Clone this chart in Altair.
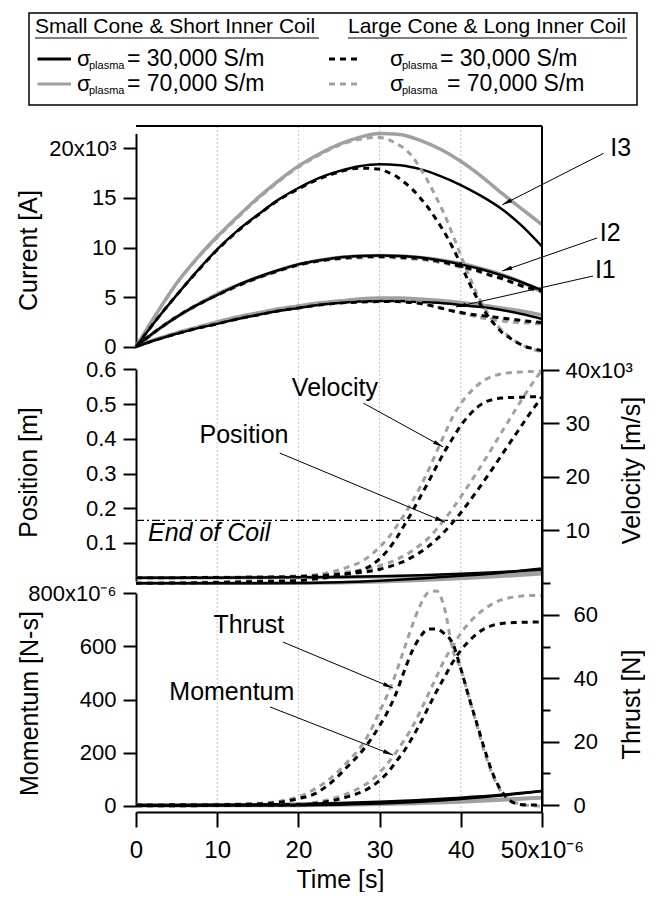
import math
import altair as alt
import pandas as pd

FONT = "Liberation Sans"
GRAY = "#a0a0a0"
BLACK = "#000000"

# ---------------- data ----------------
T_SOLID = [0, 2.5, 5, 7.5, 10, 12.5, 15, 17.5, 20, 22.5, 25, 27.5, 30, 32.5, 35, 37.5, 40, 42.5, 45, 47.5, 50]
I3_SMALL_30K = [0, 2.7, 5.2, 7.6, 9.8, 11.7, 13.3, 14.8, 16.0, 17.0, 17.7, 18.2, 18.4, 18.3, 17.9, 17.2, 16.3, 15.2, 13.9, 12.2, 10.1]
I3_SMALL_70K = [0, 3.3, 6.4, 8.9, 11.1, 13.1, 15.0, 16.7, 18.2, 19.4, 20.4, 21.1, 21.5, 21.4, 20.8, 19.9, 18.7, 17.2, 15.5, 13.9, 12.3]
I2_SMALL_30K = [0, 1.6, 3.0, 4.2, 5.2, 6.2, 7.0, 7.7, 8.3, 8.7, 9.0, 9.15, 9.2, 9.15, 9.0, 8.7, 8.3, 7.8, 7.2, 6.5, 5.7]
I2_SMALL_70K = [0, 1.6, 3.0, 4.2, 5.3, 6.2, 7.0, 7.7, 8.3, 8.7, 9.0, 9.15, 9.2, 9.15, 9.0, 8.75, 8.4, 7.9, 7.3, 6.5, 5.5]
I1_SMALL_30K = [0, 0.7, 1.3, 1.85, 2.3, 2.8, 3.2, 3.6, 3.9, 4.2, 4.4, 4.55, 4.6, 4.6, 4.5, 4.4, 4.2, 4.0, 3.7, 3.3, 2.8]
I1_SMALL_70K = [0, 0.75, 1.4, 1.95, 2.5, 3.0, 3.4, 3.8, 4.1, 4.4, 4.6, 4.8, 4.9, 4.9, 4.8, 4.65, 4.45, 4.2, 3.9, 3.6, 3.2]

T_DASH = [0, 2.5, 5, 7.5, 10, 12.5, 15, 17.5, 20, 22.5, 25, 27.5, 30, 31, 32, 33, 34, 35, 36, 37, 38, 39, 40,
          41, 42, 43, 44, 45, 46, 47, 48, 49, 50]
I3_LARGE_30K = [0, 2.7, 5.2, 7.55, 9.75, 11.65, 13.25, 14.75, 15.9, 16.9, 17.6, 18.0, 17.9, 17.6, 17.2, 16.6, 15.9,
                15.0, 14.0, 12.8, 11.5, 10.0, 8.3, 6.5, 4.9, 3.5, 2.4, 1.5, 0.9, 0.4, 0.0, -0.2, -0.4]
I3_LARGE_70K = [0, 3.3, 6.35, 8.85, 11.0, 13.0, 14.9, 16.6, 18.1, 19.3, 20.3, 20.9, 21.1, 20.9, 20.5, 20.0, 19.2,
                18.0, 16.6, 15.0, 13.3, 11.3, 9.2, 7.2, 5.3, 3.8, 2.6, 1.7, 1.0, 0.4, 0.0, -0.3, -0.5]
I2_LARGE_30K = [0, 1.6, 3.0, 4.2, 5.2, 6.15, 6.95, 7.65, 8.25, 8.65, 8.9, 9.05, 9.1, 9.1, 9.05, 9.0, 8.95, 8.9,
                8.8, 8.65, 8.5, 8.3, 8.1, 7.9, 7.7, 7.4, 7.1, 6.9, 6.6, 6.3, 6.0, 5.8, 5.6]
I2_LARGE_70K = [0, 1.6, 3.0, 4.15, 5.2, 6.1, 6.9, 7.6, 8.2, 8.6, 8.85, 8.95, 9.0, 9.0, 8.95, 8.9, 8.85, 8.8,
                8.7, 8.55, 8.4, 8.2, 8.0, 7.8, 7.6, 7.35, 7.1, 6.85, 6.55, 6.25, 5.95, 5.7, 5.5]
I1_LARGE_30K = [0, 0.7, 1.3, 1.85, 2.3, 2.8, 3.2, 3.6, 3.9, 4.2, 4.4, 4.5, 4.55, 4.55, 4.55, 4.5, 4.45, 4.35,
                4.2, 4.0, 3.8, 3.6, 3.45, 3.3, 3.2, 3.1, 3.0, 2.9, 2.8, 2.7, 2.6, 2.5, 2.45]
I1_LARGE_70K = [0, 0.75, 1.4, 1.95, 2.5, 3.0, 3.4, 3.8, 4.1, 4.4, 4.6, 4.75, 4.8, 4.8, 4.75, 4.7, 4.6, 4.45,
                4.25, 4.05, 3.8, 3.6, 3.4, 3.2, 3.0, 2.85, 2.7, 2.6, 2.5, 2.45, 2.4, 2.35, 2.3]

T_DYN = [0, 5, 10, 15, 20, 22, 24, 26, 28, 29, 30, 31, 32, 33, 34, 35, 36, 37, 38, 39, 40, 41, 42, 43, 44, 45,
         46, 47, 48, 49, 50]
VEL_LARGE_30K = [0, 0.05, 0.15, 0.3, 0.5, 0.8, 1.2, 1.8, 2.6, 3.4, 4.6, 6.2, 8.3, 10.8, 13.4, 16.2, 19.0, 21.9,
                 24.7, 27.2, 29.6, 31.5, 33.0, 34.0, 34.5, 34.75, 34.85, 34.9, 34.95, 35.0, 35.0]
VEL_LARGE_70K = [0, 0.1, 0.25, 0.5, 0.9, 1.5, 2.1, 3.0, 4.3, 5.4, 6.8, 8.4, 10.5, 12.8, 15.3, 18.1, 21.2, 24.6,
                 28.0, 31.2, 33.7, 35.6, 37.1, 38.2, 38.9, 39.3, 39.5, 39.6, 39.7, 39.75, 39.8]
POS_LARGE_30K = [0, 0, 0.0005, 0.001, 0.003, 0.005, 0.008, 0.011, 0.016, 0.019, 0.024, 0.030, 0.038, 0.047, 0.059,
                 0.073, 0.090, 0.110, 0.133, 0.159, 0.187, 0.218, 0.250, 0.283, 0.317, 0.352, 0.387, 0.421, 0.456,
                 0.489, 0.521]
POS_LARGE_70K = [0, 0.0002, 0.001, 0.002, 0.005, 0.0075, 0.011, 0.016, 0.023, 0.028, 0.034, 0.042, 0.051, 0.063,
                 0.077, 0.094, 0.114, 0.139, 0.168, 0.199, 0.233, 0.268, 0.304, 0.341, 0.379, 0.418, 0.456, 0.494,
                 0.531, 0.566, 0.598]
MOM_LARGE_30K = [0, 0.1, 0.5, 1.5, 3, 8, 18, 33, 55, 72, 95, 125, 165, 205, 255, 310, 370, 430, 485, 540, 585,
                 620, 648, 668, 680, 686, 689, 690, 691, 692, 692]
MOM_LARGE_70K = [0, 0.2, 1, 2.5, 5, 12, 25, 45, 75, 95, 125, 160, 200, 245, 295, 355, 420, 485, 550, 600, 650,
                 688, 718, 743, 762, 775, 783, 788, 791, 792, 792]
THR_LARGE_30K = [0, 0.05, 0.1, 0.3, 2.0, 3.5, 7.0, 12.0, 17.5, 21.0, 25.0, 29.5, 35.0, 42.0, 48.5, 53.0, 55.5,
                 55.5, 54.0, 51.0, 43.0, 34.0, 25.5, 17.0, 9.5, 4.5, 1.5, 0.3, 0, 0, 0]
THR_LARGE_70K = [0, 0.1, 0.2, 0.5, 2.6, 5.0, 8.5, 13.5, 19.5, 24.0, 29.5, 35.0, 41.5, 49.0, 56.5, 63.0, 67.0,
                 67.5, 62.0, 49.0, 43.0, 34.0, 25.0, 16.0, 9.0, 4.0, 1.5, 0.5, 0, -0.2, -0.3]

T_SMALL_DYN = [0, 10, 20, 25, 30, 35, 40, 45, 50]
VEL_SMALL_30K = [0, 0, 0.05, 0.2, 0.5, 0.9, 1.4, 2.0, 2.8]
VEL_SMALL_70K = [0, 0, 0.03, 0.1, 0.3, 0.55, 0.9, 1.3, 1.8]
POS_SMALL_30K = [0, 0, 0.001, 0.002, 0.004, 0.007, 0.011, 0.016, 0.023]
POS_SMALL_70K = [0, 0, 0.0005, 0.001, 0.0025, 0.004, 0.007, 0.011, 0.015]
MOM_SMALL_30K = [0, 0.5, 2, 4, 8, 15, 25, 38, 55]
MOM_SMALL_70K = [0, 0.3, 1.2, 2.5, 5, 9, 14, 21, 30]
THR_SMALL_30K = [0, 0.05, 0.3, 0.6, 1.0, 1.6, 2.3, 3.2, 4.4]
THR_SMALL_70K = [0, 0.03, 0.15, 0.35, 0.6, 0.9, 1.3, 1.8, 2.4]

GRID_T = [10, 20, 30, 40]
END_OF_COIL = 0.165

LEGEND_HEADERS = ["Small Cone & Short Inner Coil", "Large Cone & Long Inner Coil"]
LEGEND_VALUES = ["= 30,000 S/m", "= 70,000 S/m"]

# ---------------- layout / scales ----------------
W, H = 406, 686
X_DOMAIN = [0, 50]
Y_SPECS = {
    "cur": ([0, 21.5], [220.7, 7.42]),
    "pos": ([-0.01, 0.6], [455.1, 243.4]),
    "vel": ([0, 40], [457.3, 244.1]),
    "mom": ([0, 800], [679.7, 467.3]),
    "thr": ([0, 70], [679.0, 457.1]),
}


def xs():
    return alt.Scale(domain=X_DOMAIN, nice=False, zero=False)


def ys(kind):
    d, r = Y_SPECS[kind]
    return alt.Scale(domain=d, range=r, nice=False, zero=False)


def px(t):
    return t * W / (X_DOMAIN[1] - X_DOMAIN[0])


def py(kind, v):
    d, r = Y_SPECS[kind]
    return r[0] + (v - d[0]) / (d[1] - d[0]) * (r[1] - r[0])


AX = dict(domainColor="black", tickColor="black", domainWidth=2, tickWidth=2,
          labelFont=FONT, labelColor="black",
          titleFont=FONT, titleFontSize=25, titleColor="black", titleFontWeight="normal",
          labelFlush=False, labelOverlap=False, grid=False)
YLAB = 22

AXIS_X = alt.Axis(orient="bottom", values=[0, 10, 20, 30, 40, 50], tickSize=15, labelPadding=11, labelFontSize=24,
                  labelExpr="datum.value == 50 ? '50x10⁻⁶' : datum.label",
                  title="Time [s]", titleX=204, titleY=67, titleAlign="center", titleBaseline="middle",
                  titleAngle=0, **AX)
AXIS_CUR = alt.Axis(orient="left", values=[0, 5, 10, 15, 20], tickSize=13, labelPadding=7, labelFontSize=YLAB,
                    labelExpr="datum.value == 20 ? '20x10³' : datum.label",
                    title="Current [A]", titleAngle=270, titleX=-108, titleY=124,
                    titleAlign="center", titleBaseline="middle", **AX)
AXIS_POS = alt.Axis(orient="left", values=[0.1, 0.2, 0.3, 0.4, 0.5, 0.6], format=".1f", tickSize=13,
                    labelPadding=7, labelFontSize=YLAB, title="Position [m]", titleAngle=270, titleX=-108,
                    titleY=346, titleAlign="center", titleBaseline="middle", **AX)
AXIS_VEL = alt.Axis(orient="right", values=[10, 20, 30, 40], tickSize=17, labelPadding=6, labelFontSize=YLAB,
                    labelExpr="datum.value == 40 ? '40x10³' : datum.label",
                    title="Velocity [m/s]", titleAngle=270, titleX=89, titleY=344,
                    titleAlign="center", titleBaseline="middle", **AX)
AXIS_MOM = alt.Axis(orient="left", values=[0, 200, 400, 600, 800], tickSize=13, labelPadding=7, labelFontSize=YLAB,
                    labelExpr="datum.value == 800 ? '800x10⁻⁶' : datum.label",
                    title="Momentum [N-s]", titleAngle=270, titleX=-107, titleY=577,
                    titleAlign="center", titleBaseline="middle", **AX)
AXIS_THR = alt.Axis(orient="right", values=[0, 20, 40, 60], tickSize=17, labelPadding=14, labelFontSize=YLAB,
                    title="Thrust [N]", titleAngle=270, titleX=89, titleY=578,
                    titleAlign="center", titleBaseline="middle", **AX)
AXIS_THR_MINOR = alt.Axis(orient="right", values=[10, 30, 50, 70], tickSize=8, labels=False,
                          domain=False, tickColor="black", tickWidth=2, title="", grid=False)


def line(t, v, kind, color, width, dashed, xaxis=None, yaxis=None):
    props = dict(color=color, strokeWidth=width, interpolate="monotone")
    if dashed:
        props["strokeDash"] = [6, 5]
    return alt.Chart(pd.DataFrame({"t": t, "v": v})).mark_line(**props).encode(
        x=alt.X("t:Q", scale=xs(), axis=xaxis),
        y=alt.Y("v:Q", scale=ys(kind), axis=yaxis),
    )


layers = []

# grid lines
layers.append(
    alt.Chart(pd.DataFrame({"t": GRID_T})).mark_rule(color="#c4c4c4", strokeWidth=1, strokeDash=[2, 2]).encode(
        x=alt.X("t:Q", scale=xs(), axis=None), y=alt.value(0), y2=alt.value(H))
)

# end of coil line
layers.append(
    alt.Chart(pd.DataFrame({"t0": [X_DOMAIN[0]], "t1": [X_DOMAIN[1]], "p": [END_OF_COIL]}))
    .mark_rule(color="black", strokeWidth=1.2, strokeDash=[8, 3, 2, 3])
    .encode(x=alt.X("t0:Q", scale=xs(), axis=None), x2="t1:Q",
            y=alt.Y("p:Q", scale=ys("pos"), axis=None))
)

# --- current panel ---
layers.append(line(T_SOLID, I3_SMALL_70K, "cur", GRAY, 3.5, False, xaxis=AXIS_X, yaxis=AXIS_CUR))
layers.append(line(T_SOLID, I2_SMALL_70K, "cur", GRAY, 3.5, False))
layers.append(line(T_SOLID, I1_SMALL_70K, "cur", GRAY, 3.5, False))
layers.append(line(T_SOLID, I3_SMALL_30K, "cur", BLACK, 2.5, False))
layers.append(line(T_SOLID, I2_SMALL_30K, "cur", BLACK, 2.5, False))
layers.append(line(T_SOLID, I1_SMALL_30K, "cur", BLACK, 2.5, False))
layers.append(line(T_DASH, I3_LARGE_70K, "cur", GRAY, 3, True))
layers.append(line(T_DASH, I2_LARGE_70K, "cur", GRAY, 3, True))
layers.append(line(T_DASH, I1_LARGE_70K, "cur", GRAY, 3, True))
layers.append(line(T_DASH, I3_LARGE_30K, "cur", BLACK, 3, True))
layers.append(line(T_DASH, I2_LARGE_30K, "cur", BLACK, 3, True))
layers.append(line(T_DASH, I1_LARGE_30K, "cur", BLACK, 3, True))

# --- position / velocity panel ---
layers.append(line(T_SMALL_DYN, POS_SMALL_70K, "pos", GRAY, 3.5, False, yaxis=AXIS_POS))
layers.append(line(T_SMALL_DYN, VEL_SMALL_70K, "vel", GRAY, 3.5, False, yaxis=AXIS_VEL))
layers.append(line(T_SMALL_DYN, POS_SMALL_30K, "pos", BLACK, 2.5, False))
layers.append(line(T_SMALL_DYN, VEL_SMALL_30K, "vel", BLACK, 2.5, False))
layers.append(line(T_DYN, POS_LARGE_70K, "pos", GRAY, 3, True))
layers.append(line(T_DYN, VEL_LARGE_70K, "vel", GRAY, 3, True))
layers.append(line(T_DYN, POS_LARGE_30K, "pos", BLACK, 3, True))
layers.append(line(T_DYN, VEL_LARGE_30K, "vel", BLACK, 3, True))

# --- momentum / thrust panel ---
layers.append(line(T_SMALL_DYN, MOM_SMALL_70K, "mom", GRAY, 3.5, False, yaxis=AXIS_MOM))
layers.append(line(T_SMALL_DYN, THR_SMALL_70K, "thr", GRAY, 3.5, False, yaxis=AXIS_THR))
layers.append(line(T_SMALL_DYN, MOM_SMALL_30K, "mom", BLACK, 2.5, False))
layers.append(line(T_SMALL_DYN, THR_SMALL_30K, "thr", BLACK, 2.5, False, yaxis=AXIS_THR_MINOR))
layers.append(line(T_DYN, MOM_LARGE_70K, "mom", GRAY, 3, True))
layers.append(line(T_DYN, THR_LARGE_70K, "thr", GRAY, 3, True))
layers.append(line(T_DYN, MOM_LARGE_30K, "mom", BLACK, 3, True))
layers.append(line(T_DYN, THR_LARGE_30K, "thr", BLACK, 3, True))

# frame: top line and right spine
one = pd.DataFrame({"a": [0]})
layers.append(alt.Chart(one).mark_rule(color="black", strokeWidth=2).encode(
    x=alt.value(0), x2=alt.value(W), y=alt.value(0)))
layers.append(alt.Chart(one).mark_rule(color="black", strokeWidth=2).encode(
    x=alt.value(W), y=alt.value(0), y2=alt.value(H)))

# --- annotations ---
ARROW_PATH = "M0,0 L0.55,2.6 L-0.55,2.6 Z"


def label(kind, t, v, text, size=25, **kw):
    df = pd.DataFrame({"t": [t], "v": [v], "s": [text]})
    return alt.Chart(df).mark_text(font=FONT, fontSize=size, color="black", **kw).encode(
        x=alt.X("t:Q", scale=xs(), axis=None),
        y=alt.Y("v:Q", scale=ys(kind), axis=None),
        text="s:N")


def arrow(kind, t0, v0, t1, v1):
    dx = px(t1) - px(t0)
    dy = py(kind, v1) - py(kind, v0)
    ang = math.degrees(math.atan2(dx, -dy)) % 360
    df = pd.DataFrame({"t0": [t0], "v0": [v0], "t1": [t1], "v1": [v1], "ang": [ang]})
    shaft = alt.Chart(df).mark_rule(color="black", strokeWidth=1).encode(
        x=alt.X("t0:Q", scale=xs(), axis=None), x2="t1:Q",
        y=alt.Y("v0:Q", scale=ys(kind), axis=None), y2="v1:Q")
    head = alt.Chart(df).mark_point(shape=ARROW_PATH, filled=True, color="black", size=60, opacity=1).encode(
        x=alt.X("t1:Q", scale=xs(), axis=None),
        y=alt.Y("v1:Q", scale=ys(kind), axis=None),
        angle=alt.Angle("ang:Q", scale=None))
    return [shaft, head]


layers += arrow("cur", 57.6, 19.5, 45.1, 14.3)
layers += arrow("cur", 56.8, 10.96, 45.1, 7.63)
layers += arrow("cur", 56.3, 7.13, 39.4, 4.0)
layers.append(label("cur", 59.7, 20.0, "I3"))
layers.append(label("cur", 58.4, 11.45, "I2"))
layers.append(label("cur", 57.8, 7.73, "I1"))

layers += arrow("vel", 28.0, 33.8, 37.8, 25.6)
layers += arrow("pos", 17.7, 0.359, 38.05, 0.160)
layers.append(label("vel", 24.5, 36.6, "Velocity"))
layers.append(label("pos", 13.3, 0.411, "Position"))
layers.append(label("pos", 1.48, 0.128, "End of Coil", align="left", fontStyle="italic"))

layers += arrow("thr", 18.1, 51.4, 31.65, 36.9)
layers += arrow("mom", 16.5, 372, 31.65, 191)
layers.append(label("thr", 13.9, 56.8, "Thrust"))
layers.append(label("mom", 11.8, 428, "Momentum"))

# --- legend box above the plot ---
LX = alt.Scale(domain=[0, 608], range=[-107, 501])
LY = alt.Scale(domain=[0, 92], range=[-113, -21])


def lx(f):
    return alt.X(f, type="quantitative", scale=LX, axis=None)


def ly(f):
    return alt.Y(f, type="quantitative", scale=LY, axis=None)


layers.append(alt.Chart(pd.DataFrame({"x0": [0], "x1": [608], "y0": [0], "y1": [92]}))
              .mark_rect(filled=False, stroke="black", strokeWidth=1.5)
              .encode(x=lx("x0"), x2="x1", y=ly("y0"), y2="y1"))
layers.append(alt.Chart(pd.DataFrame({"x": [6, 319], "y": [14, 14], "s": LEGEND_HEADERS}))
              .mark_text(font=FONT, fontSize=21, align="left", baseline="middle", color="black")
              .encode(x=lx("x"), y=ly("y"), text="s:N"))
layers.append(alt.Chart(pd.DataFrame({"x0": [6, 319], "x1": [290, 598], "y": [25, 25]}))
              .mark_rule(color="black", strokeWidth=1.2)
              .encode(x=lx("x0"), x2="x1", y=ly("y")))
for (x0, x1, yy, col, dashed) in [(8.5, 42, 46, BLACK, False), (8.5, 42, 71, GRAY, False),
                                  (300, 328, 46, BLACK, True), (300, 328, 71, GRAY, True)]:
    props = dict(color=col, strokeWidth=3)
    if dashed:
        props["strokeDash"] = [6, 5]
    layers.append(alt.Chart(pd.DataFrame({"x0": [x0], "x1": [x1], "y": [yy]}))
                  .mark_rule(**props).encode(x=lx("x0"), x2="x1", y=ly("y")))
layers.append(alt.Chart(pd.DataFrame({"x": [48, 48, 361, 361], "y": [46, 71, 46, 71], "s": ["σ"] * 4}))
              .mark_text(font=FONT, fontSize=22, align="left", baseline="middle", color="black")
              .encode(x=lx("x"), y=ly("y"), text="s:N"))
layers.append(alt.Chart(pd.DataFrame({"x": [60, 60, 373, 373], "y": [53, 78, 53, 78], "s": ["plasma"] * 4}))
              .mark_text(font=FONT, fontSize=11, align="left", baseline="middle", color="black")
              .encode(x=lx("x"), y=ly("y"), text="s:N"))
layers.append(alt.Chart(pd.DataFrame({"x": [98, 98, 411, 418], "y": [46, 71, 46, 71],
                                      "s": [LEGEND_VALUES[0], LEGEND_VALUES[1], LEGEND_VALUES[0], LEGEND_VALUES[1]]}))
              .mark_text(font=FONT, fontSize=23, align="left", baseline="middle", color="black")
              .encode(x=lx("x"), y=ly("y"), text="s:N"))

chart = (
    alt.layer(*layers)
    .resolve_scale(x="independent", y="independent")
    .properties(width=W, height=H, autosize=alt.AutoSizeParams(type="none"),
                padding={"left": 128, "top": 118, "right": 103, "bottom": 80})
    .configure_view(stroke=None)
)

chart.save("out.html", embed_options={"renderer": "svg", "actions": False})
